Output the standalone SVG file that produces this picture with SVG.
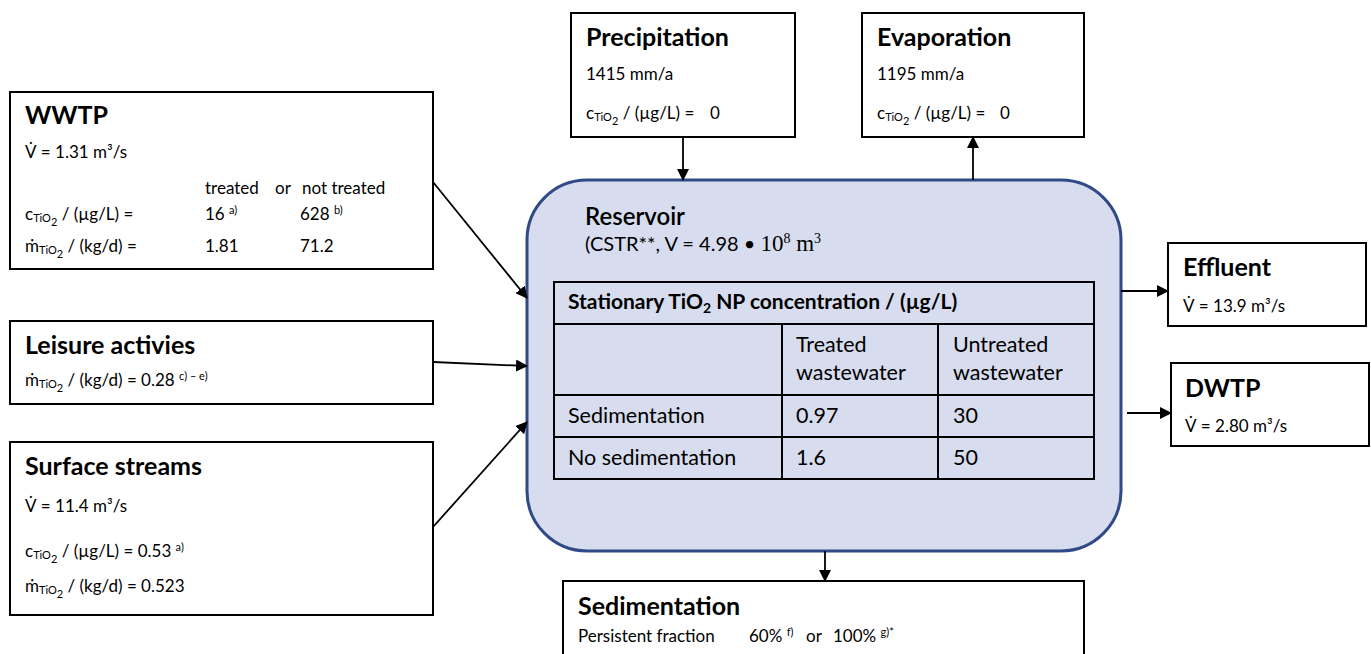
<svg xmlns="http://www.w3.org/2000/svg" width="1371" height="654" viewBox="0 0 1371 654">
<defs>
<marker id="arr" markerUnits="userSpaceOnUse" markerWidth="12" markerHeight="12" refX="11" refY="6" orient="auto"><path d="M0,0 L12,6 L0,12 z" fill="#000"/></marker>
<style>
text{font-family:Lato,"Liberation Sans",sans-serif;fill:#000}
.box{fill:#fff;stroke:#000;stroke-width:2}
.h{font-weight:bold;font-size:25px}
.b{font-size:17px}
.s{font-size:11px}
.tb{font-size:21.5px}
.th{font-size:21px;font-weight:bold}
.con line{stroke:#000;stroke-width:1.8;marker-end:url(#arr)}
.grid{stroke:#000;stroke-width:2;fill:none}
</style>
</defs>
<rect width="1371" height="654" fill="#fff"/>

<g id="reservoir">
<rect x="527" y="180" width="594" height="371" rx="60" ry="60" fill="#d7ddee" stroke="#2f4a86" stroke-width="3"/>
<text x="585" y="225" style="font-size:24px;font-weight:600">Reservoir</text>
<text x="585" y="251" style="font-size:20px">(CSTR**, V = 4.98 • <tspan style="font-family:'Liberation Serif',serif;font-size:23px">10<tspan dy="-8" font-size="14">8</tspan><tspan dy="8"> m</tspan><tspan dy="-8" font-size="14">3</tspan></tspan></text>
<rect class="grid" x="554" y="282" width="540" height="197"/>
<line class="grid" x1="554" y1="324" x2="1094" y2="324"/>
<line class="grid" x1="554" y1="395" x2="1094" y2="395"/>
<line class="grid" x1="554" y1="437" x2="1094" y2="437"/>
<line class="grid" x1="782" y1="324" x2="782" y2="479"/>
<line class="grid" x1="938" y1="324" x2="938" y2="479"/>
<text class="th" x="568" y="309">Stationary TiO<tspan dy="4" font-size="14">2</tspan><tspan dy="-4"> NP concentration / (µg/L)</tspan></text>
<text class="tb" x="796" y="352">Treated</text>
<text class="tb" x="796" y="380">wastewater</text>
<text class="tb" x="953" y="352">Untreated</text>
<text class="tb" x="953" y="380">wastewater</text>
<text class="tb" x="568" y="423">Sedimentation</text>
<text class="tb" x="796" y="423">0.97</text>
<text class="tb" x="953" y="423">30</text>
<text class="tb" x="568" y="465">No sedimentation</text>
<text class="tb" x="796" y="465">1.6</text>
<text class="tb" x="953" y="465">50</text>
</g>

<g id="wwtp">
<rect class="box" x="10" y="92" width="423" height="177"/>
<text class="h" x="25" y="124">WWTP</text>
<text class="b" x="25" y="158">V̇ = 1.31 m³/s</text>
<text class="b" x="205" y="194">treated</text>
<text class="b" x="275" y="194">or</text>
<text class="b" x="302" y="194">not treated</text>
<text class="b" x="25" y="220">c<tspan class="s" dy="2">TiO</tspan><tspan class="s" dy="4">2</tspan><tspan dy="-6"> / (µg/L) =</tspan></text>
<text class="b" x="205" y="220">16 <tspan class="s" dy="-6">a)</tspan></text>
<text class="b" x="300" y="220">628 <tspan class="s" dy="-6">b)</tspan></text>
<text class="b" x="25" y="252">ṁ<tspan class="s" dy="2">TiO</tspan><tspan class="s" dy="4">2</tspan><tspan dy="-6"> / (kg/d) =</tspan></text>
<text class="b" x="205" y="252">1.81</text>
<text class="b" x="300" y="252">71.2</text>
</g>

<g id="leisure">
<rect class="box" x="10" y="321" width="423" height="83"/>
<text class="h" x="25" y="354">Leisure activies</text>
<text class="b" x="25" y="386">ṁ<tspan class="s" dy="2">TiO</tspan><tspan class="s" dy="4">2</tspan><tspan dy="-6"> / (kg/d) = 0.28 </tspan><tspan class="s" dy="-6">c) – e)</tspan></text>
</g>

<g id="surface">
<rect class="box" x="10" y="442" width="423" height="173"/>
<text class="h" x="25" y="475">Surface streams</text>
<text class="b" x="25" y="512">V̇ = 11.4 m³/s</text>
<text class="b" x="25" y="557">c<tspan class="s" dy="2">TiO</tspan><tspan class="s" dy="4">2</tspan><tspan dy="-6"> / (µg/L) = 0.53 </tspan><tspan class="s" dy="-6">a)</tspan></text>
<text class="b" x="25" y="592">ṁ<tspan class="s" dy="2">TiO</tspan><tspan class="s" dy="4">2</tspan><tspan dy="-6"> / (kg/d) = 0.523</tspan></text>
</g>

<g id="precipitation">
<rect class="box" x="571" y="13" width="224" height="124"/>
<text class="h" x="586" y="46">Precipitation</text>
<text class="b" x="586" y="80">1415 mm/a</text>
<text class="b" x="586" y="119">c<tspan class="s" dy="2">TiO</tspan><tspan class="s" dy="4">2</tspan><tspan dy="-6"> / (µg/L) =</tspan><tspan x="710">0</tspan></text>
</g>

<g id="evaporation">
<rect class="box" x="862" y="13" width="222" height="124"/>
<text class="h" x="877" y="46">Evaporation</text>
<text class="b" x="877" y="80">1195 mm/a</text>
<text class="b" x="877" y="119">c<tspan class="s" dy="2">TiO</tspan><tspan class="s" dy="4">2</tspan><tspan dy="-6"> / (µg/L) =</tspan><tspan x="1000">0</tspan></text>
</g>

<g id="effluent">
<rect class="box" x="1168" y="243" width="198" height="83"/>
<text class="h" x="1183" y="276">Effluent</text>
<text class="b" x="1183" y="312">V̇ = 13.9 m³/s</text>
</g>

<g id="dwtp">
<rect class="box" x="1171" y="363" width="198" height="83"/>
<text class="h" x="1185" y="397">DWTP</text>
<text class="b" x="1185" y="432">V̇ = 2.80 m³/s</text>
</g>

<g id="sedimentation">
<rect class="box" x="563" y="581" width="521" height="90"/>
<text class="h" x="578" y="615">Sedimentation</text>
<text class="b" x="578" y="642">Persistent fraction</text>
<text class="b" x="749" y="642">60% <tspan class="s" dy="-6">f)</tspan></text>
<text class="b" x="806" y="642">or</text>
<text class="b" x="833" y="642">100% <tspan class="s" dy="-6">g)*</tspan></text>
</g>

<g id="connectors" class="con">
<line x1="433" y1="182" x2="527" y2="298"/>
<line x1="433" y1="362" x2="527" y2="366"/>
<line x1="433" y1="527" x2="527" y2="422"/>
<line x1="683" y1="137" x2="683" y2="180"/>
<line x1="973" y1="180" x2="973" y2="137"/>
<line x1="1121" y1="291" x2="1168" y2="291"/>
<line x1="1127" y1="413" x2="1171" y2="413"/>
<line x1="825" y1="551" x2="825" y2="581"/>
</g>
</svg>
